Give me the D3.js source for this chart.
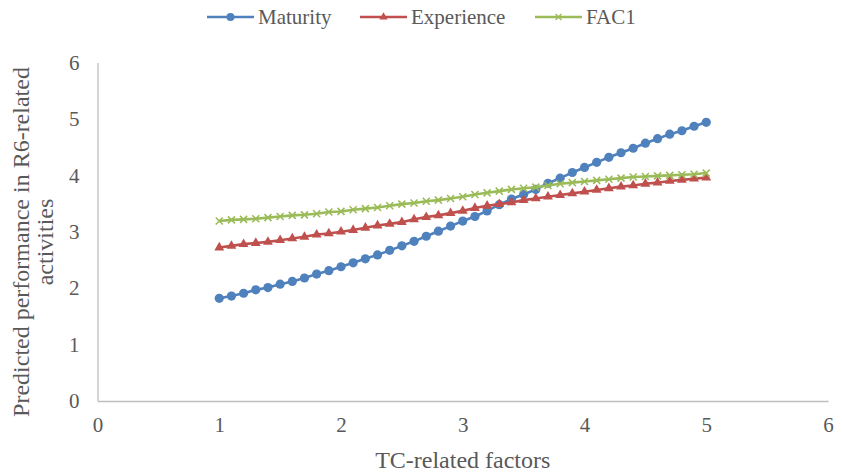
<!DOCTYPE html>
<html>
<head>
<meta charset="utf-8">
<script src="https://cdn.jsdelivr.net/npm/d3@7"></script>
<style>
  body { margin: 0; background: #fff; }
  svg { display: block; font-family: "Liberation Serif", "Times New Roman", serif; }
</style>
</head>
<body>
<script>
// x values for every series (0.1 steps)
let xs = [1.0, 1.1, 1.2, 1.3, 1.4, 1.5, 1.6, 1.7, 1.8, 1.9,
  2.0, 2.1, 2.2, 2.3, 2.4, 2.5, 2.6, 2.7, 2.8, 2.9,
  3.0, 3.1, 3.2, 3.3, 3.4, 3.5, 3.6, 3.7, 3.8, 3.9,
  4.0, 4.1, 4.2, 4.3, 4.4, 4.5, 4.6, 4.7, 4.8, 4.9, 5.0]

let maturity = [1.82, 1.86, 1.91, 1.97, 2.01, 2.07, 2.12, 2.18, 2.25, 2.31,
  2.38, 2.45, 2.52, 2.59, 2.67, 2.75, 2.83, 2.92, 3.01, 3.10,
  3.19, 3.27, 3.37, 3.48, 3.58, 3.66, 3.75, 3.86, 3.95, 4.05,
  4.14, 4.23, 4.32, 4.40, 4.48, 4.57, 4.65, 4.73, 4.79, 4.87, 4.94]

let experience = [2.72, 2.75, 2.78, 2.80, 2.82, 2.85, 2.88, 2.91, 2.95, 2.97,
  3.00, 3.03, 3.07, 3.11, 3.14, 3.17, 3.22, 3.26, 3.29, 3.33,
  3.37, 3.42, 3.46, 3.49, 3.52, 3.56, 3.59, 3.62, 3.65, 3.68,
  3.71, 3.74, 3.77, 3.80, 3.82, 3.85, 3.87, 3.90, 3.92, 3.94, 3.96]

let fac1 = [3.19, 3.21, 3.22, 3.23, 3.25, 3.27, 3.29, 3.30, 3.32, 3.35,
  3.36, 3.39, 3.41, 3.43, 3.46, 3.49, 3.51, 3.54, 3.56, 3.59,
  3.62, 3.66, 3.69, 3.72, 3.75, 3.77, 3.79, 3.82, 3.85, 3.87,
  3.89, 3.91, 3.93, 3.95, 3.97, 3.98, 3.99, 4.00, 4.01, 4.02, 4.04]

let xTicks = [0, 1, 2, 3, 4, 5, 6]
let yTicks = [0, 1, 2, 3, 4, 5, 6]

let series = [
  { name: 'Maturity', values: maturity, color: '#4F81BD', marker: 'circle' },
  { name: 'Experience', values: experience, color: '#C0504D', marker: 'triangle' },
  { name: 'FAC1', values: fac1, color: '#9BBB59', marker: 'cross' }
]

let width = 842, height = 475
let margin = { top: 62.5, right: 14, bottom: 74, left: 97.5 }

let svg = d3.select('body').append('svg')
  .attr('width', width)
  .attr('height', height)

let x = d3.scaleLinear().domain([0, 6]).range([margin.left, width - margin.right])
let y = d3.scaleLinear().domain([0, 6]).range([height - margin.bottom, margin.top])

// axes: plain grey lines, no tick marks
svg.append('g')
  .attr('transform', `translate(0,${y(0)})`)
  .call(d3.axisBottom(x).tickValues(xTicks).tickSize(0).tickPadding(16).tickFormat(d3.format('d')))
  .attr('font-family', null).attr('font-size', 21)
  .call(g => g.select('.domain').attr('stroke', '#BFBFBF').attr('stroke-width', 1.3))
  .call(g => g.selectAll('text').attr('fill', '#595959'))

svg.append('g')
  .attr('transform', `translate(${x(0)},0)`)
  .call(d3.axisLeft(y).tickValues(yTicks).tickSize(0).tickPadding(18).tickFormat(d3.format('d')))
  .attr('font-family', null).attr('font-size', 21)
  .call(g => g.select('.domain').attr('stroke', '#BFBFBF').attr('stroke-width', 1.3))
  .call(g => g.selectAll('text').attr('fill', '#595959'))

let line = d3.line().x((d, i) => x(xs[i])).y(d => y(d))

let drawMarker = (sel, s) => {
  if (s.marker == 'circle') {
    sel.append('circle').attr('r', 4.6).attr('fill', s.color)
  } else if (s.marker == 'triangle') {
    sel.append('path').attr('d', d3.symbol(d3.symbolTriangle, 42)()).attr('fill', s.color)
  } else {
    sel.append('path').attr('d', 'M-3.5,-3.5L3.5,3.5M-3.5,3.5L3.5,-3.5')
      .attr('stroke', s.color).attr('stroke-width', 1.6).attr('fill', 'none')
  }
}

series.forEach(s => {
  let g = svg.append('g')
  g.append('path')
    .datum(s.values)
    .attr('d', line)
    .attr('fill', 'none')
    .attr('stroke', s.color)
    .attr('stroke-width', 2.6)
  g.selectAll('g.pt').data(s.values).enter()
    .append('g').attr('class', 'pt')
    .attr('transform', (d, i) => `translate(${x(xs[i])},${y(d)})`)
    .each(function () { drawMarker(d3.select(this), s) })
})

// legend
let legendX = [207, 360, 535]
let legend = svg.append('g')
series.forEach((s, i) => {
  let g = legend.append('g').attr('transform', `translate(${legendX[i]},17)`)
  g.append('line').attr('x1', 0).attr('x2', 47).attr('stroke', s.color).attr('stroke-width', 2.6)
  let m = g.append('g').attr('transform', 'translate(23.5,0)')
  if (s.marker == 'circle') m.append('circle').attr('r', 4).attr('fill', s.color)
  else if (s.marker == 'triangle') m.append('path').attr('d', d3.symbol(d3.symbolTriangle, 30)()).attr('fill', s.color)
  else m.append('path').attr('d', 'M-3,-3L3,3M-3,3L3,-3').attr('stroke', s.color).attr('stroke-width', 1.4)
  g.append('text').attr('x', 51).attr('dy', '0.35em')
    .attr('font-size', 21).attr('fill', '#595959').text(s.name)
})

// axis titles
svg.append('text')
  .attr('x', (x(0) + x(6)) / 2).attr('y', 468)
  .attr('text-anchor', 'middle').attr('font-size', 24).attr('fill', '#595959')
  .text('TC-related factors')

let yTitle = svg.append('text')
  .attr('transform', 'translate(0,242) rotate(-90)')
  .attr('text-anchor', 'middle').attr('font-size', 24).attr('fill', '#595959')
yTitle.append('tspan').attr('x', 0).attr('y', 29).text('Predicted performance in R6-related')
yTitle.append('tspan').attr('x', 0).attr('y', 53).text('activities')
</script>
</body>
</html>
